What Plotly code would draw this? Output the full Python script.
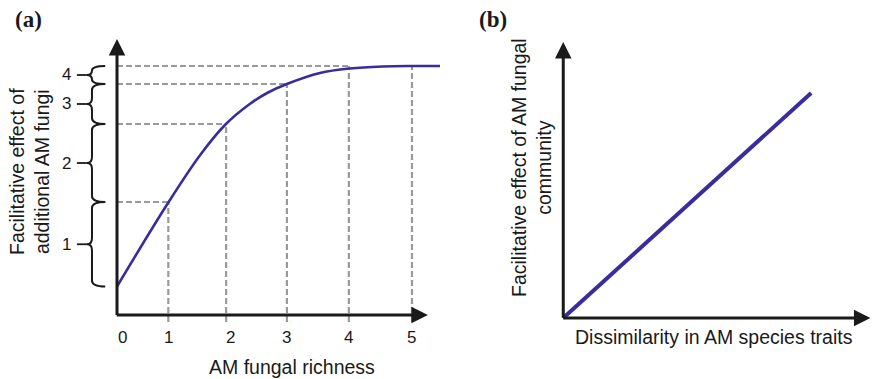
import plotly.graph_objects as go

# ---------------- data ----------------
# Panel (a): facilitative effect vs AM fungal richness (schematic)
richness_x = [0.0, 0.87, 1.41, 1.83, 2.25, 2.56, 2.88, 3.44, 3.95, 4.5, 5.0, 5.475]
effect_y = [0.57, 2.25, 3.20, 3.80, 4.22, 4.45, 4.62, 4.84, 4.93, 4.97, 4.98, 4.98]

# positions of richness levels 1..5 along the axis and the curve value there
level_x = [0.87, 1.85, 2.88, 3.93, 5.0]
level_top = [2.26, 3.82, 4.62, 4.98, 4.98]
hline_y = [2.26, 3.82, 4.62, 4.98]          # horizontal guides (to levels 1..4)
hline_xend = [0.87, 1.85, 2.88, 3.93]

richness_labels = ["0", "1", "2", "3", "4", "5"]
richness_label_x = [0.1, 0.87, 1.92, 2.88, 3.93, 5.0]

# brace intervals on the y axis and their labels
brace_lo = [0.57, 2.26, 3.82, 4.62]
brace_hi = [2.26, 3.82, 4.62, 4.98]
brace_labels = ["1", "2", "3", "4"]

# Panel (b): linear relation
dissim_x = [0.0, 8.03]
community_y = [0.0, 8.15]

# ---------------- styling ----------------
W, H = 872, 379
CURVE = "#3a2d9b"
DASH = "#9a9a9a"
INK = "#1a1a1a"
SANS = "Liberation Sans, Arial, sans-serif"
SERIF = "Liberation Serif, Times New Roman, serif"


def px_x(p):
    return p / W


def px_y(p):
    return 1 - p / H


fig = go.Figure()

# dashed guides (panel a)
gx, gy = [], []
for x, top in zip(level_x, level_top):
    gx += [x, x, None]
    gy += [-0.14, top, None]
for y, xe in zip(hline_y, hline_xend):
    gx += [0.0, xe, None]
    gy += [y, y, None]
fig.add_trace(go.Scatter(x=gx, y=gy, mode="lines", xaxis="x", yaxis="y",
                         line=dict(color=DASH, width=2.2, dash="6px,3px"),
                         hoverinfo="skip", showlegend=False))

# curve (panel a)
fig.add_trace(go.Scatter(x=richness_x, y=effect_y, mode="lines", xaxis="x", yaxis="y",
                         line=dict(color=CURVE, width=2.6, shape="spline", smoothing=1.0),
                         showlegend=False))

# line (panel b)
fig.add_trace(go.Scatter(x=dissim_x, y=community_y, mode="lines", xaxis="x2", yaxis="y2",
                         line=dict(color=CURVE, width=4), showlegend=False))

shapes = []
annotations = []

# braces on panel a
xs_spine, xs_end, xs_tip, xs_tick = -0.424, -0.2, -0.51, -0.68
for lo, hi, lab in zip(brace_lo, brace_hi, brace_labels):
    mid = (lo + hi) / 2
    r = min(0.12, (hi - lo) / 4)
    path = (f"M {xs_end},{hi} Q {xs_spine},{hi} {xs_spine},{hi - r} "
            f"L {xs_spine},{mid + r} Q {xs_spine},{mid} {xs_tip},{mid} "
            f"Q {xs_spine},{mid} {xs_spine},{mid - r} "
            f"L {xs_spine},{lo + r} Q {xs_spine},{lo} {xs_end},{lo}")
    shapes.append(dict(type="path", path=path, xref="x", yref="y",
                       line=dict(color=INK, width=2)))
    shapes.append(dict(type="line", xref="x", yref="y", x0=xs_tick, x1=xs_tip,
                       y0=mid, y1=mid, line=dict(color=INK, width=1.8)))
    annotations.append(dict(x=-0.85, y=mid, xref="x", yref="y", text=lab,
                            xanchor="center", yanchor="middle",
                            showarrow=False, font=dict(family=SANS, size=17, color=INK)))

# axis arrows panel a
arrow = dict(text="", showarrow=True, arrowhead=2, arrowsize=1.1, arrowwidth=3,
             arrowcolor=INK)
annotations.append(dict(x=0, y=5.52, ax=0, ay=-0.03, xref="x", yref="y", axref="x",
                        ayref="y", **arrow))
annotations.append(dict(x=5.27, y=0, ax=-0.03, ay=0, xref="x", yref="y", axref="x",
                        ayref="y", **arrow))
# axis arrows panel b
annotations.append(dict(x=0, y=10.0, ax=0, ay=-0.05, xref="x2", yref="y2", axref="x2",
                        ayref="y2", **arrow))
annotations.append(dict(x=9.95, y=0, ax=-0.05, ay=0, xref="x2", yref="y2", axref="x2",
                        ayref="y2", **arrow))

# richness tick labels
for lab, x in zip(richness_labels, richness_label_x):
    annotations.append(dict(x=x, y=px_y(337), xref="x", yref="paper", text=lab,
                            xanchor="center", yanchor="middle",
                            showarrow=False, font=dict(family=SANS, size=17, color=INK)))

# titles
txt = dict(xref="paper", yref="paper", showarrow=False, xanchor="center", yanchor="middle")
annotations += [
    dict(x=px_x(292), y=px_y(367), text="AM fungal richness",
         font=dict(family=SANS, size=19.5, color=INK), **txt),
    dict(x=px_x(30), y=px_y(172), text="Facilitative effect of<br>additional AM fungi",
         textangle=-90, font=dict(family=SANS, size=19.5, color=INK), **txt),
    dict(x=px_x(714), y=px_y(337), text="Dissimilarity in AM species traits",
         font=dict(family=SANS, size=19.5, color=INK), **txt),
    dict(x=px_x(531), y=px_y(168), text="Facilitative effect of AM fungal<br>community",
         textangle=-90, font=dict(family=SANS, size=19.5, color=INK), **txt),
    dict(x=px_x(28), y=px_y(19), text="<b>(a)</b>",
         font=dict(family=SERIF, size=23, color=INK), **txt),
    dict(x=px_x(493), y=px_y(19), text="<b>(b)</b>",
         font=dict(family=SERIF, size=23, color=INK), **txt),
]

hidden = dict(showgrid=False, zeroline=False, showticklabels=False, showline=False,
              ticks="", fixedrange=True)

fig.update_layout(
    width=W, height=H,
    margin=dict(l=0, r=0, t=0, b=0),
    paper_bgcolor="white", plot_bgcolor="rgba(0,0,0,0)",
    xaxis=dict(domain=[px_x(58), px_x(440)], range=[-1.0, 5.475], **hidden),
    yaxis=dict(domain=[px_y(330), px_y(35)], range=[-0.3, 5.6], **hidden),
    xaxis2=dict(domain=[px_x(554), 1.0], range=[-0.3, 10.0], anchor="y2", **hidden),
    yaxis2=dict(domain=[px_y(326), px_y(40)], range=[-0.29, 10.07], anchor="x2", **hidden),
    shapes=shapes,
    annotations=annotations,
    showlegend=False,
)

fig.write_html("out.html", config={"displayModeBar": False},
               post_script="document.body.style.margin='0';document.body.style.overflow='hidden';")
